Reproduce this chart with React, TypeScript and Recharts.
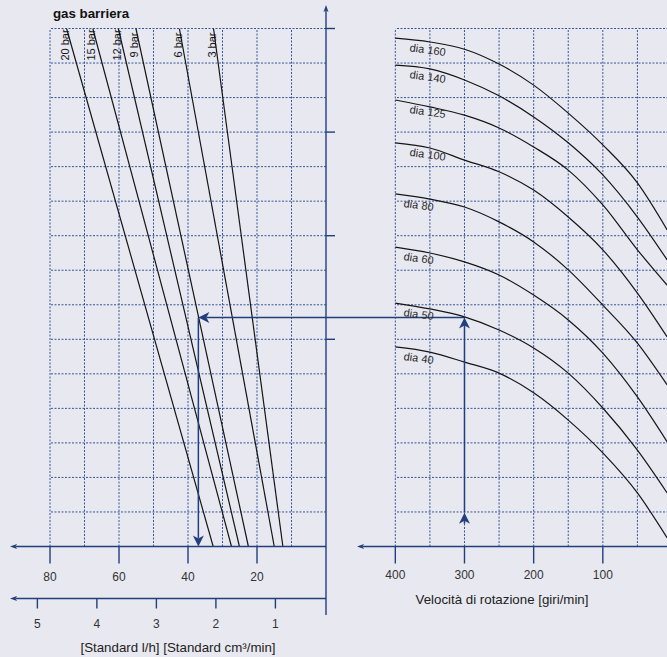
import React from 'react';
import { ComposedChart, Line, XAxis, YAxis, ReferenceLine, Label } from 'recharts';

const BG = '#e8e8f0';
const NAVY = '#213f7c';
const GRID = '#36559a';
const INK = '#161616';
const TEXT = '#333333';
const FONT = '"Liberation Sans", Arial, Helvetica, sans-serif';

const W = 667;
const H = 657;

// left panel: barrier gas consumption lines
const barLabels = ['20 bar', '15 bar', '12 bar', '9 bar', '6 bar', '3 bar'];
const barFlowTop = [75.2, 67.6, 60.2, 55.1, 42.5, 32.6];
const barFlowBottom = [32.7, 27.4, 25.1, 22.5, 15.0, 12.5];

const flowTicks = [20, 40, 60, 80];
const flowGrid = [10, 20, 30, 40, 50, 60, 70, 80];
const cmTicks = [1, 2, 3, 4, 5];
const levelTicks = [6, 9, 12, 15];
const levelGrid = [1, 2, 3, 4, 5, 6, 7, 8, 9, 10, 11, 12, 13, 14, 15];

// right panel: shaft diameter curves over rotation speed
const rpmPoints = [400, 350, 300, 250, 200, 150, 100, 50, 7];
const rpmTicks = [100, 200, 300, 400];
const rpmGrid = [50, 100, 150, 200, 250, 300, 350, 400];
const diaLabels = ['dia 160', 'dia 140', 'dia 125', 'dia 100', 'dia 80', 'dia 60', 'dia 50', 'dia 40'];
const dia160 = [14.72, 14.61, 14.4, 13.97, 13.36, 12.55, 11.63, 10.53, 9.17];
const dia140 = [13.94, 13.83, 13.51, 13.05, 12.44, 11.69, 10.76, 9.54, 8.3];
const dia125 = [12.93, 12.73, 12.49, 12.12, 11.57, 10.9, 9.89, 8.59, 7.57];
const dia100 = [11.69, 11.54, 11.19, 10.85, 10.32, 9.54, 8.59, 7.34, 6.07];
const dia80 = [10.21, 10.06, 9.83, 9.4, 8.82, 8.01, 6.99, 5.89, 4.68];
const dia60 = [8.67, 8.5, 8.24, 7.86, 7.28, 6.56, 5.6, 4.33, 3.03];
const dia50 = [7.05, 6.88, 6.65, 6.27, 5.75, 5.02, 4.01, 2.79, 1.55];
const dia40 = [5.78, 5.63, 5.34, 5.02, 4.45, 3.66, 2.71, 1.55, 0.25];
const diaValues = [dia160, dia140, dia125, dia100, dia80, dia60, dia50, dia40];

// worked example (blue arrows)
const exampleRpm = 300;
const exampleStart = 0.98;
const exampleLevel = 6.63;
const exampleFlow = 37;
const exampleFlowAtRpm = -40; // where rpm 300 sits on the flow scale

// axis extents
const FLOW_END = 91.6;
const CM_DOMAIN = [0.15, 5.46];
const RPM_END = 455.4;
const LEVEL_BOTTOM = -1.98;
const LEVEL_TOP = 15.68;
const CM_AXIS_LEVEL = -1.506;

const rpmRows = rpmPoints.map((rpm, i) => {
  const row: Record<string, number> = { rpm };
  diaLabels.forEach((name, k) => {
    row[name] = diaValues[k][i];
  });
  return row;
});

const cmRows = cmTicks.map((cm) => ({ cm, level: 0 }));

const gridLine = { stroke: GRID, strokeWidth: 1, strokeDasharray: '2 1.5' };
const tickText = { fill: TEXT, fontSize: 12, fontFamily: FONT };
const tickLine = { stroke: NAVY, strokeWidth: 1.4 };
const noTickText = () => <g />;

function arrowShape(head: number, spread: number, notch: number, width: number) {
  return (p: any) => {
    const x1 = +p.x1, y1 = +p.y1, x2 = +p.x2, y2 = +p.y2;
    const len = Math.hypot(x2 - x1, y2 - y1) || 1;
    const ux = (x2 - x1) / len, uy = (y2 - y1) / len;
    const bx = x2 - ux * head, by = y2 - uy * head;
    const mx = x2 - ux * (head - notch), my = y2 - uy * (head - notch);
    const hw = spread / 2;
    const pts = `${x2},${y2} ${bx - uy * hw},${by + ux * hw} ${mx},${my} ${bx + uy * hw},${by - ux * hw}`;
    return (
      <g>
        <line x1={x1} y1={y1} x2={mx} y2={my} stroke={NAVY} strokeWidth={width} />
        <polygon points={pts} fill={NAVY} />
      </g>
    );
  };
}

const axisArrow = arrowShape(7, 5, 1.5, 1.4);
const pathArrow = arrowShape(11, 11, 3, 1.5);

const barLabel = (name: string) => (p: any) => {
  if (p.index !== 0) return <g />;
  const x = (p.x ?? p.viewBox?.x) - 1.5;
  const y = (p.y ?? p.viewBox?.y) + 16.5;
  return (
    <text x={x} y={y} transform={`rotate(-90 ${x} ${y})`} textAnchor="middle" dominantBaseline="central"
      fontFamily={FONT} fontSize={11} fill={INK}>
      {name}
    </text>
  );
};

const diaLabel = (name: string) => (p: any) => {
  if (p.index !== 0) return <g />;
  const x = (p.x ?? p.viewBox?.x) + (name.length >= 7 ? 14 : 8);
  const y = (p.y ?? p.viewBox?.y) + 13;
  return (
    <text x={x} y={y} transform={`rotate(8 ${x} ${y})`} fontFamily={FONT} fontSize={11} fill="#2a2a2a">
      {name}
    </text>
  );
};

const unitsTitle = (p: any) => {
  const vb = p.viewBox;
  return (
    <text x={vb.x + vb.width / 2 + 10} y={vb.y + vb.height - 5} textAnchor="middle" fontFamily={FONT} fontSize={13.3} fill="#222">
      [Standard l/h] [Standard cm³/min]
    </text>
  );
};

const rpmTitle = (p: any) => {
  const vb = p.viewBox;
  return (
    <text x={vb.x + vb.width / 2 - 12.5} y={vb.y + 57.5} textAnchor="middle" fontFamily={FONT} fontSize={13.3} fill="#222">
      Velocità di rotazione [giri/min]
    </text>
  );
};

function GasPanel() {
  return (
    <ComposedChart width={W} height={H} margin={{ top: 28.5, right: 327, bottom: 0, left: 10 }}>
      <XAxis xAxisId="a" dataKey="flow" type="number" domain={[0, FLOW_END]} reversed allowDataOverflow
        ticks={flowTicks} interval={0} height={52} tickSize={17} tickMargin={9} axisLine={false}
        tickLine={tickLine} tick={tickText} />
      <XAxis xAxisId="b" dataKey="cm" type="number" domain={CM_DOMAIN} reversed allowDataOverflow
        ticks={cmTicks} interval={0} height={58.5} tickSize={10} tickMargin={11} axisLine={false}
        tickLine={tickLine} tick={tickText}>
        <Label content={unitsTitle} />
      </XAxis>
      <YAxis orientation="right" type="number" domain={[0, 15]} allowDataOverflow ticks={levelTicks} interval={0}
        width={14} tickSize={9} tick={noTickText} axisLine={false} tickLine={tickLine} />

      {levelGrid.map((l) => (
        <ReferenceLine key={'h' + l} xAxisId="a" segment={[{ x: 0, y: l }, { x: 80, y: l }]} {...gridLine} ifOverflow="visible" />
      ))}
      {flowGrid.map((f) => (
        <ReferenceLine key={'v' + f} xAxisId="a" segment={[{ x: f, y: 0 }, { x: f, y: 15 }]} {...gridLine} ifOverflow="visible" />
      ))}

      {/* carries the second (cm3/min) scale */}
      <Line xAxisId="b" type="linear" dataKey="level" data={cmRows} stroke="none" dot={false} activeDot={false}
        isAnimationActive={false} />

      {barLabels.map((name, i) => (
        <Line key={name} xAxisId="a" type="linear" dataKey="level"
          data={[{ flow: barFlowTop[i], level: 15 }, { flow: barFlowBottom[i], level: 0 }]}
          stroke={INK} strokeWidth={1.2} dot={false} activeDot={false} isAnimationActive={false}
          label={barLabel(name)} />
      ))}

      {/* axes with arrow heads */}
      <ReferenceLine xAxisId="a" segment={[{ x: 0, y: 0 }, { x: FLOW_END, y: 0 }]} ifOverflow="visible" shape={axisArrow} />
      <ReferenceLine xAxisId="a" segment={[{ x: 0, y: CM_AXIS_LEVEL }, { x: FLOW_END, y: CM_AXIS_LEVEL }]} ifOverflow="visible" shape={axisArrow} />
      <ReferenceLine xAxisId="a" segment={[{ x: 0, y: LEVEL_BOTTOM }, { x: 0, y: LEVEL_TOP }]} ifOverflow="visible" shape={axisArrow} />

      {/* example path: across to the gas lines, then down */}
      <ReferenceLine xAxisId="a" segment={[{ x: exampleFlowAtRpm, y: exampleLevel }, { x: exampleFlow, y: exampleLevel }]} ifOverflow="visible" shape={pathArrow} />
      <ReferenceLine xAxisId="a" segment={[{ x: exampleFlow, y: exampleLevel }, { x: exampleFlow, y: 0 }]} ifOverflow="visible" shape={pathArrow} />
    </ComposedChart>
  );
}

function SpeedPanel() {
  return (
    <ComposedChart width={672} height={H} data={rpmRows} margin={{ top: 28.5, right: 0, bottom: 0, left: 357 }}>
      <XAxis dataKey="rpm" type="number" domain={[0, RPM_END]} reversed allowDataOverflow ticks={rpmTicks} interval={0}
        height={110.5} tickSize={17} tickMargin={7} axisLine={false} tickLine={tickLine} tick={tickText}>
        <Label content={rpmTitle} />
      </XAxis>
      <YAxis hide type="number" domain={[0, 15]} allowDataOverflow />

      {levelGrid.map((l) => (
        <ReferenceLine key={'h' + l} segment={[{ x: 0, y: l }, { x: 400, y: l }]} {...gridLine} ifOverflow="visible" />
      ))}
      {rpmGrid.map((r) => (
        <ReferenceLine key={'v' + r} segment={[{ x: r, y: 0 }, { x: r, y: 15 }]} {...gridLine} ifOverflow="visible" />
      ))}

      {diaLabels.map((name) => (
        <Line key={name} type="monotoneX" dataKey={name} stroke={INK} strokeWidth={1.2} dot={false} activeDot={false}
          isAnimationActive={false} label={diaLabel(name)} />
      ))}

      <ReferenceLine segment={[{ x: 0, y: 0 }, { x: RPM_END, y: 0 }]} ifOverflow="visible" shape={axisArrow} />

      {/* example path: up from the speed to the dia 50 curve */}
      <ReferenceLine segment={[{ x: exampleRpm, y: exampleStart - 0.32 }, { x: exampleRpm, y: exampleStart }]} ifOverflow="visible" shape={pathArrow} />
      <ReferenceLine segment={[{ x: exampleRpm, y: exampleStart }, { x: exampleRpm, y: exampleLevel }]} ifOverflow="visible" shape={pathArrow} />
    </ComposedChart>
  );
}

export default function App() {
  const layer: React.CSSProperties = { position: 'absolute', left: 0, top: 0 };
  return (
    <div style={{ position: 'absolute', left: 0, top: 0, width: W, height: H, background: BG, overflow: 'hidden' }}>
      <svg width={W} height={40} style={layer}>
        <text x={53} y={17.5} fontFamily={FONT} fontSize={13.3} fontWeight="bold" fill="#111">gas barriera</text>
      </svg>
      <div style={layer}>
        <GasPanel />
      </div>
      <div style={layer}>
        <SpeedPanel />
      </div>
    </div>
  );
}
